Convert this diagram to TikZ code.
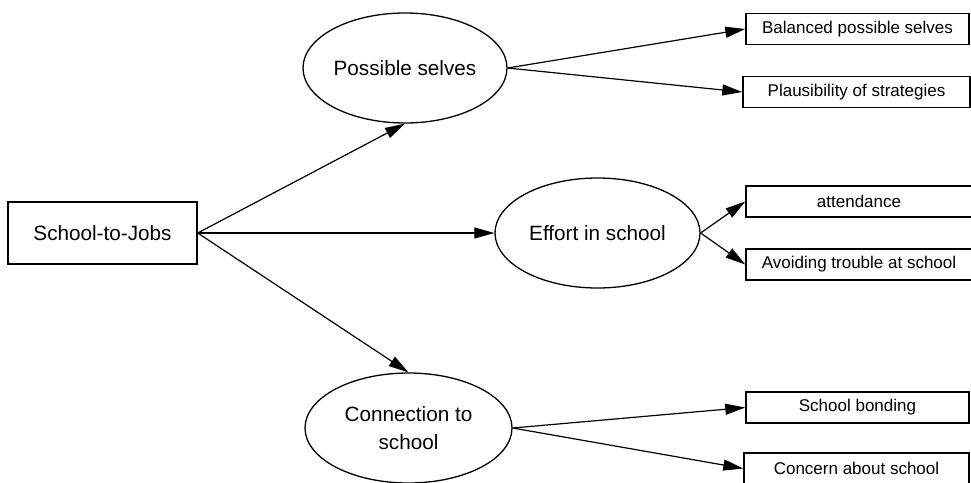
\documentclass[tikz,border=0pt]{standalone}
\usepackage{fontspec}
\setmainfont{Liberation Sans}
\usetikzlibrary{shapes.geometric,arrows.meta}

\begin{document}
\begin{tikzpicture}
  [x=1pt, y=-1pt,
    every node/.style={inner sep=0pt, font=\fontsize{20.7}{28}\selectfont, align=center},
    oval/.style={draw, ellipse, line width=1.3pt, minimum width=204pt, minimum height=110pt},
    source/.style={draw, rectangle, line width=1.4pt, minimum width=189pt, minimum height=62pt},
    item/.style={draw, rectangle, line width=1.4pt, minimum height=31pt, font=\fontsize{17}{20}\selectfont},
    link/.style={-{Triangle[length=20pt,width=11pt]}, line width=1.2pt},
]
  \useasboundingbox (0,0) rectangle (971,482);

  \node[source] (stj) at (102.5,233) {School-to-Jobs};

  \node[oval] (possible) at (405,68) {Possible selves};
  \node[oval, minimum width=205pt] (effort) at (597.5,233) {Effort in school};
  \node[oval, minimum width=207pt] (connection) at (408.5,428) {Connection to\\school};

  \node[item, minimum width=223pt] (balanced) at (857.5,29) {Balanced possible selves};
  \node[item, minimum width=227pt] (plausible) at (856.5,92) {Plausibility of strategies};
  \node[item, minimum width=226pt] (attend) at (859,201.5) {attendance};
  \node[item, minimum width=226pt] (trouble) at (859,264.5) {Avoiding trouble at school};
  \node[item, minimum width=223pt] (bonding) at (857.5,407.5) {School bonding};
  \node[item, minimum width=225pt] (concern) at (856.5,468.5) {Concern about school};

  % first level
  \draw[link] (stj.east) -- (possible.south);
  \draw[link] (stj.east) -- (effort.west);
  \draw[link] (stj.east) -- (connection.north);

  % second level
  \draw[link] (possible.east) -- (balanced.west);
  \draw[link] (possible.east) -- (plausible.west);
  \draw[link] (effort.east) -- (attend.west);
  \draw[link] (effort.east) -- (trouble.west);
  \draw[link] (connection.east) -- (bonding.west);
  \draw[link] (connection.east) -- (concern.west);
\end{tikzpicture}
\end{document}
